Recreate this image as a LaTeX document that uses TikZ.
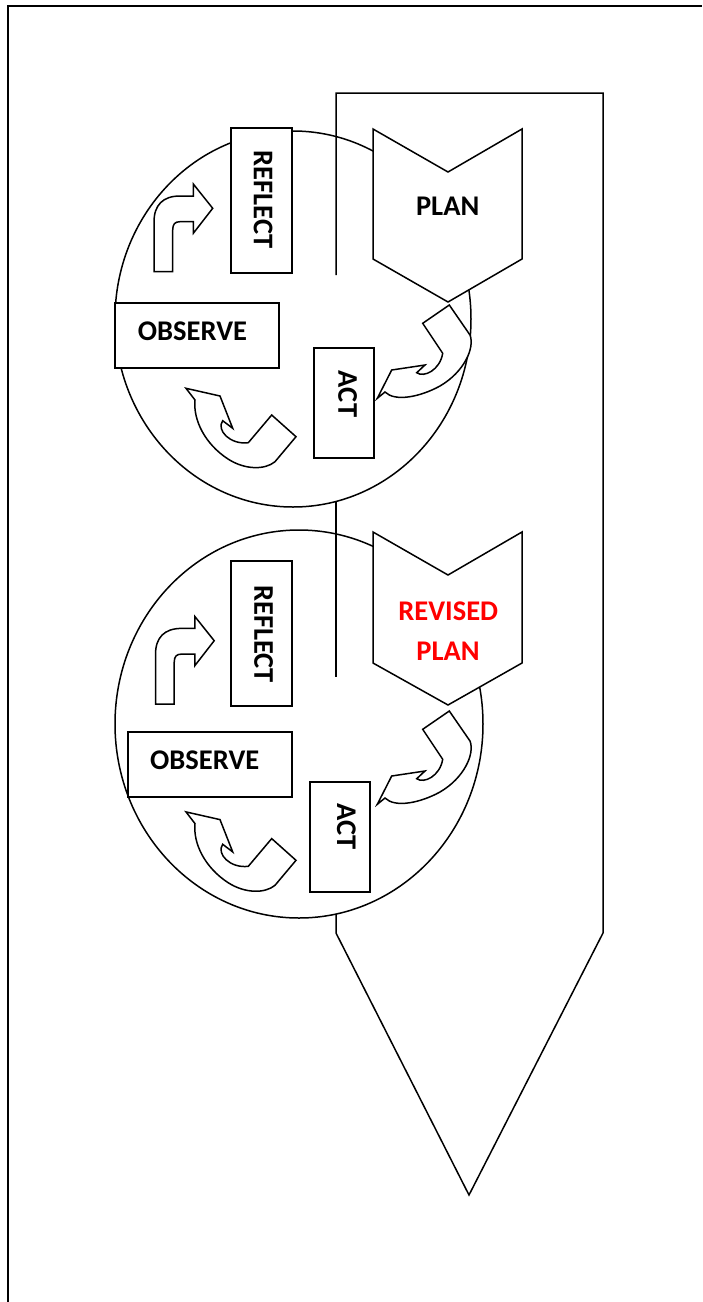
\documentclass[tikz,border=0pt]{standalone}
\usepackage{fontspec}
\usetikzlibrary{shapes.geometric}
\setmainfont{Carlito}
\definecolor{revred}{RGB}{255,0,0}
\tikzset{
  outline/.style={line width=1.5pt, line join=miter},
  frameline/.style={line width=1.8pt},
  box/.style={draw, line width=1.5pt, fill=white, inner sep=0pt},
  lbl/.style={font=\fontsize{28.5}{34}\selectfont\bfseries, inner sep=0pt},
  blockarrow/.style={draw, line width=1.5pt, fill=white, line join=miter},
  arrowA/.pic={
    \path[blockarrow] (154,271.7) -- (154,222) .. controls (154,205) and (163,196) .. (180,196)
      -- (193.3,196) -- (193.3,184) -- (212.7,208.3) -- (193.3,233.3) -- (193.3,221.7)
      -- (180,221.7) .. controls (175,221.7) and (172.7,224) .. (172.7,230)
      -- (172.7,271.7) -- cycle;
  },
  arrowB/.pic={
    \path[blockarrow] (377.3,398.3) -- (391.7,370) -- (425,365) -- (416.7,372.7)
      .. controls (424,378) and (440,370) .. (442.7,353.3)
      -- (422.7,323.3) -- (449.3,305) -- (470,335)
      .. controls (475,348) and (464,372) .. (440,386)
      .. controls (420,397) and (395,402) .. (385,392) -- cycle;
  },
  arrowC/.pic={
    \path[blockarrow] (186,388.3) -- (220,396) -- (232.7,428.3) -- (222.7,420.7)
      .. controls (216,430) and (230,445) .. (248.3,442.7)
      -- (271.7,415) -- (296,436.7) -- (275,461.7)
      .. controls (265,470) and (245,470) .. (228,459)
      .. controls (205,444) and (193,420) .. (195,400) -- cycle;
  },
}
\begin{document}
\begin{tikzpicture}[x=1pt,y=-1pt]
\useasboundingbox (0,0) rectangle (702,1302);
% outer frame
\coordinate (fbl) at (8,1302);
\coordinate (ftl) at (8,6);
\coordinate (ftr) at (702,6);
\draw[frameline] (fbl) -- (ftl) -- (ftr);

% circles
\node[draw, line width=1.5pt, ellipse, minimum width=356pt, minimum height=376pt, inner sep=0pt] (circ1) at (293,319) {};
\node[draw, line width=1.5pt, ellipse, minimum width=368pt, minimum height=388pt, inner sep=0pt] (circ2) at (299,724) {};

% big arrow
\coordinate (btl) at (336,93);
\coordinate (btr) at (603,93);
\coordinate (bsr) at (603,933);
\coordinate (btip) at (469,1195);
\coordinate (bsl) at (336,933);
\coordinate (b1) at (336,275);
\coordinate (b2) at (336,501);
\coordinate (b3) at (336,677);
\coordinate (b4) at (336,914);
\draw[outline] (b1) -- (btl) -- (btr) -- (bsr) -- (btip) -- (bsl) -- (b4);
\draw[outline] (b2) -- (b3);

% cycle 1
\node[box, minimum width=61pt, minimum height=145pt] (reflect1) at (261.5,200.5) {};
\node[lbl, rotate=-90] (reflect1t) at (263,199.5) {REFLECT};
\node[box, minimum width=164pt, minimum height=65pt] (observe1) at (197,335.5) {};
\node[lbl] (observe1t) at (192.5,331) {OBSERVE};
\node[box, minimum width=60pt, minimum height=110pt] (act1) at (344,403) {};
\node[lbl, rotate=-90] (act1t) at (347.5,394) {ACT};
\coordinate (p1a) at (373,129);
\coordinate (p1b) at (448,172);
\coordinate (p1c) at (522,129);
\coordinate (p1d) at (522,259);
\coordinate (p1e) at (448,302);
\coordinate (p1f) at (373,259);
\draw[outline, fill=white] (p1a) -- (p1b) -- (p1c) -- (p1d) -- (p1e) -- (p1f) -- cycle;
\node[lbl] (plan1) at (447.7,206) {PLAN};
\pic at (0,0) {arrowA};
\pic at (0,0) {arrowB};
\pic at (0,0) {arrowC};

% cycle 2
\node[box, minimum width=61pt, minimum height=145pt] (reflect2) at (261.5,633.5) {};
\node[lbl, rotate=-90] (reflect2t) at (263.7,634) {REFLECT};
\node[box, minimum width=164pt, minimum height=65pt] (observe2) at (210,764.5) {};
\node[lbl] (observe2t) at (204.7,760.5) {OBSERVE};
\node[box, minimum width=60pt, minimum height=110pt] (act2) at (340,837) {};
\node[lbl, rotate=-90] (act2t) at (346.3,826.3) {ACT};
\coordinate (p2a) at (373,532);
\coordinate (p2b) at (448,575);
\coordinate (p2c) at (522,532);
\coordinate (p2d) at (522,663);
\coordinate (p2e) at (448,705);
\coordinate (p2f) at (373,663);
\draw[outline, fill=white] (p2a) -- (p2b) -- (p2c) -- (p2d) -- (p2e) -- (p2f) -- cycle;
\node[lbl, text=revred] (rev2) at (448.3,611) {REVISED};
\node[lbl, text=revred] (plan2) at (448,651) {PLAN};
\pic at (1.5,432.4) {arrowA};
\pic at (0,406) {arrowB};
\pic at (0,423.6) {arrowC};
\end{tikzpicture}
\end{document}
